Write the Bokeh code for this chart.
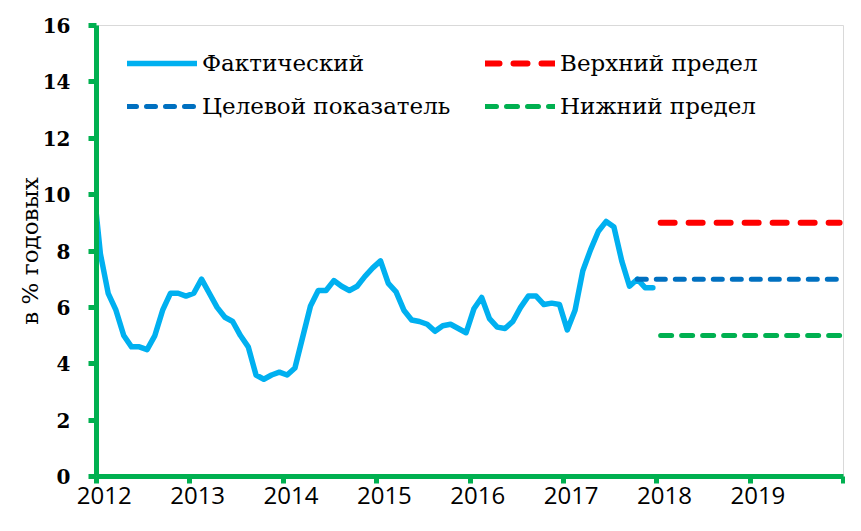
from bokeh.plotting import figure
from bokeh.models import Legend, LegendItem, FixedTicker, Range1d, LinearAxis, NumeralTickFormatter
from bokeh.embed import file_html
from bokeh.resources import INLINE

# ---- data ----
# monthly observations, Dec 2011 .. Dec 2017 (year-on-year, %)
months = ["2011-12"] + [f"{y}-{m:02d}" for y in range(2012, 2018) for m in range(1, 13)]
actual = [
    10.6,
    7.9, 6.5, 5.9, 5.0, 4.6, 4.6, 4.5, 5.0, 5.9, 6.5, 6.5, 6.4,      # 2012
    6.5, 7.0, 6.5, 6.0, 5.65, 5.5, 5.0, 4.6, 3.6, 3.45, 3.6, 3.7,   # 2013
    3.6, 3.85, 4.95, 6.05, 6.6, 6.6, 6.95, 6.75, 6.6, 6.75, 7.1, 7.4,  # 2014
    7.65, 6.85, 6.55, 5.9, 5.55, 5.5, 5.4, 5.15, 5.35, 5.4, 5.25, 5.1,  # 2015
    5.95, 6.35, 5.6, 5.3, 5.25, 5.5, 6.0, 6.4, 6.4, 6.1, 6.15, 6.1,  # 2016
    5.2, 5.9, 7.3, 8.05, 8.7, 9.05, 8.85, 7.65, 6.75, 7.0, 6.7, 6.7,  # 2017
]
target_months = ["2017-10", "2019-12"]
target = [7.0, 7.0]
band_months = ["2018-01", "2019-12"]
upper = [9.0, 9.0]
lower = [5.0, 5.0]

year_ticks = [2012, 2013, 2014, 2015, 2016, 2017, 2018, 2019, 2020]
year_labels = [2012, 2013, 2014, 2015, 2016, 2017, 2018, 2019]
y_ticks = [0, 2, 4, 6, 8, 10, 12, 14, 16]

legend_labels = ["Фактический", "Целевой показатель", "Верхний предел", "Нижний предел"]
y_title = "в % годовых"


def to_x(s):
    y, m = s.split("-")
    return int(y) + (int(m) - 0.5) / 12.0


x_act = [to_x(s) for s in months]
x_tg = [to_x(s) for s in target_months]
x_band = [to_x(s) for s in band_months]
# year labels sit slightly right of their tick marks (as in the original)
x_year_labels = [y + 1.0 / 12 for y in year_labels]

GREEN = "#00B050"

p = figure(width=845, height=515, output_backend="svg", toolbar_location=None,
           x_range=Range1d(2012, 2020), y_range=Range1d(0, 16),
           min_border_left=96, min_border_right=2, min_border_top=25, min_border_bottom=39)
p.xgrid.visible = False
p.ygrid.visible = False
p.outline_line_color = "#D9D9D9"
p.outline_line_width = 1
p.background_fill_color = "white"
p.border_fill_color = "white"

r_act = p.line(x_act, actual, line_color="#00B0F0", line_width=5.5,
               line_join="round", line_cap="round")
r_up = p.line(x_band, upper, line_color="#FF0000", line_width=6,
              line_dash="14 14", line_cap="round")
r_lo = p.line(x_band, lower, line_color=GREEN, line_width=5,
              line_dash="11 10", line_cap="round")
r_tg = p.line(x_tg, target, line_color="#0070C0", line_width=5,
              line_dash="9 10", line_cap="round")

xa = p.xaxis[0]
ya = p.yaxis[0]
for ax in (xa, ya):
    ax.axis_line_color = GREEN
    ax.axis_line_width = 5
    ax.major_tick_line_color = GREEN
    ax.major_tick_line_width = 5
    ax.major_tick_in = 0
    ax.minor_tick_line_color = None
    ax.major_label_text_color = "black"

# green axis line with year tick marks (labels drawn by the axis below it)
xa.ticker = FixedTicker(ticks=year_ticks)
xa.major_tick_out = 7
xa.major_label_standoff = 0
xa.major_label_overrides = {t: "" for t in year_ticks}
xa.major_label_text_font_size = "1px"
xa.major_label_text_color = None

lab_axis = LinearAxis(ticker=FixedTicker(ticks=x_year_labels),
                      formatter=NumeralTickFormatter(format="0"),
                      axis_line_color=None, major_tick_line_color=None,
                      minor_tick_line_color=None, major_tick_in=0, major_tick_out=0,
                      major_label_standoff=3, major_label_text_font="Open Sans",
                      major_label_text_font_size="24px", major_label_text_color="black")
p.add_layout(lab_axis, "below")

ya.ticker = FixedTicker(ticks=y_ticks)
ya.major_tick_out = 8
ya.major_label_standoff = 18
ya.major_label_text_font = "DejaVu Serif"
ya.major_label_text_font_style = "bold"
ya.major_label_text_font_size = "20px"
ya.axis_label = y_title
ya.axis_label_text_font = "DejaVu Serif"
ya.axis_label_text_font_style = "normal"
ya.axis_label_text_font_size = "23px"
ya.axis_label_text_color = "black"
ya.axis_label_standoff = -3


def make_legend(items, loc):
    return Legend(items=items, location=loc, glyph_width=70, glyph_height=30,
                  label_height=30, spacing=13, padding=0, margin=0, label_standoff=5,
                  border_line_color=None, background_fill_alpha=0,
                  label_text_font="DejaVu Serif", label_text_font_size="23px",
                  label_text_color="black", label_text_baseline="middle")


leg1 = make_legend([LegendItem(label=legend_labels[0], renderers=[r_act]),
                    LegendItem(label=legend_labels[1], renderers=[r_tg])], (31, 355))
leg2 = make_legend([LegendItem(label=legend_labels[2], renderers=[r_up]),
                    LegendItem(label=legend_labels[3], renderers=[r_lo])], (389, 355))
p.add_layout(leg1)
p.add_layout(leg2)

open("out.html", "w").write(file_html(p, INLINE))
